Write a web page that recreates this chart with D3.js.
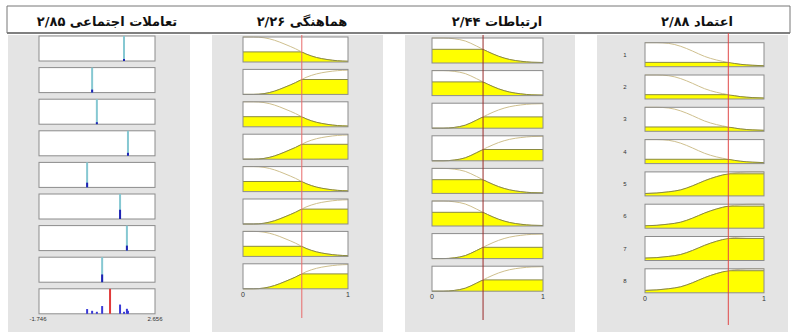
<!DOCTYPE html>
<html><head><meta charset="utf-8">
<script src="https://cdn.jsdelivr.net/npm/d3@7"></script>
<style>body{margin:0;background:#fff} svg{display:block}</style>
</head><body>
<script>
// ---------------- DATA ----------------
const headers = ["تعاملات اجتماعی ۲/۸۵", "هماهنگی ۲/۲۶", "ارتباطات ۲/۴۴", "اعتماد ۲/۸۸"];
const ruleNumbers = ["1","2","3","4","5","6","7","8"];
const mfX = [0,0.1,0.2,0.3,0.4,0.5,0.6,0.7,0.8,0.9,1];
// membership curves (value at mfX)
const hamahangiDec = [1.0,1.0,0.97,0.87,0.71,0.53,0.32,0.18,0.10,0.05,0.03];
const hamahangiInc = [0.0,0.0,0.03,0.13,0.29,0.47,0.68,0.82,0.90,0.95,0.97];
const ertebatatDec = [1.0,1.0,0.97,0.88,0.68,0.46,0.27,0.14,0.07,0.03,0.02];
const ertebatatInc = [0.0,0.0,0.03,0.12,0.32,0.54,0.73,0.86,0.93,0.97,0.98];
const etemadDec    = [1.0,1.0,0.97,0.85,0.65,0.43,0.28,0.18,0.10,0.06,0.04];
const etemadInc    = [0.10,0.12,0.17,0.25,0.42,0.63,0.80,0.92,0.98,1.0,1.0];
// which curve each rule uses
const hamahangiRules = ["dec","inc","dec","inc","dec","inc","dec","inc"];
const ertebatatRules = ["dec","dec","inc","inc","dec","dec","inc","inc"];
const etemadRules    = ["dec","dec","dec","dec","inc","inc","inc","inc"];
// input values (red lines)
const hamahangiInput = 0.56;
const ertebatatInput = 0.46;
const etemadInput = 0.70;
const inputTickLabels = ["0","1"];
// output (Sugeno singletons)
const outDomain = [-1.746, 2.656];
const outTickLabels = ["-1.746","2.656"];
const outSingletons = [1.48,0.27,0.45,1.63,0.08,1.33,1.59,0.65];
const outStrengths  = [0.08,0.12,0.08,0.12,0.19,0.37,0.20,0.31];
const outValue = 0.95;

// ---------------- LAYOUT ----------------
const W = 795, H = 336;
const svg = d3.select("body").append("svg").attr("width", W).attr("height", H);
const defs = svg.append("defs");

// column panels
const panels = [
  {x0: 8, x1: 190}, {x0: 212, x1: 383}, {x0: 405, x1: 575}, {x0: 597, x1: 788}
];
panels.forEach(p => svg.append("rect").attr("x", p.x0).attr("y", 35)
  .attr("width", p.x1 - p.x0).attr("height", 297).attr("fill", "#e4e4e4"));

// header
svg.append("line").attr("x1", 7).attr("x2", 790).attr("y1", 6).attr("y2", 6).attr("stroke", "#777").attr("stroke-width", 1);
svg.append("line").attr("x1", 7).attr("x2", 790).attr("y1", 33).attr("y2", 33).attr("stroke", "#808080").attr("stroke-width", 2);
svg.append("line").attr("x1", 7).attr("x2", 7).attr("y1", 6).attr("y2", 33).attr("stroke", "#777");
svg.append("line").attr("x1", 790).attr("x2", 790).attr("y1", 6).attr("y2", 33).attr("stroke", "#777");
const headerX = [107, 302, 497, 697];
headers.forEach((t, i) => svg.append("text").attr("x", headerX[i]).attr("y", 26)
  .attr("direction", "rtl").attr("text-anchor", "middle")
  .attr("font-family", "DejaVu Sans").attr("font-weight", "bold").attr("font-size", 13)
  .attr("fill", "#111").text(t));

const inputCols = [
  {dec: hamahangiDec, inc: hamahangiInc, rules: hamahangiRules, input: hamahangiInput,
   left: 243, right: 348, top: 37, pitch: 32.4, h: 25, redTop: 35, redBottom: 318, red: "#e86a6a"},
  {dec: ertebatatDec, inc: ertebatatInc, rules: ertebatatRules, input: ertebatatInput,
   left: 432, right: 543, top: 38, pitch: 32.6, h: 25, redTop: 35, redBottom: 320, red: "#9a2a2a"},
  {dec: etemadDec, inc: etemadInc, rules: etemadRules, input: etemadInput,
   left: 645, right: 764, top: 42.7, pitch: 32.3, h: 24, redTop: 33, redBottom: 325, red: "#e04848", numbers: true}
];

function interp(vals, x) {
  const k = Math.min(mfX.length - 2, Math.floor(x * 10));
  const t = (x - mfX[k]) / (mfX[k + 1] - mfX[k]);
  return vals[k] + t * (vals[k + 1] - vals[k]);
}

let clipId = 0;
inputCols.forEach((c, ci) => {
  const x = d3.scaleLinear().domain([0, 1]).range([c.left, c.right]);
  const g = svg.append("g");
  c.rules.forEach((rk, r) => {
    const vals = rk === "dec" ? c.dec : c.inc;
    const yTop = c.top + r * c.pitch;
    const y = d3.scaleLinear().domain([0, 1]).range([yTop + c.h, yTop]);
    const pts = mfX.map((xv, k) => [xv, vals[k]]);
    const level = interp(vals, c.input);
    const line = d3.line().x(d => x(d[0])).y(d => y(d[1])).curve(d3.curveMonotoneX);
    const area = d3.area().x(d => x(d[0])).y0(y(0)).y1(d => y(d[1])).curve(d3.curveMonotoneX);
    g.append("rect").attr("x", c.left).attr("y", yTop).attr("width", c.right - c.left)
      .attr("height", c.h).attr("fill", "#fff");
    // clips
    const rid = "cr" + (clipId++), aid = "ca" + (clipId++);
    defs.append("clipPath").attr("id", rid).append("rect")
      .attr("x", c.left - 1).attr("y", y(level)).attr("width", c.right - c.left + 2).attr("height", y(0) - y(level) + 1);
    defs.append("clipPath").attr("id", aid).append("path").attr("d", area(pts));
    // thin membership curve
    g.append("path").attr("d", line(pts)).attr("fill", "none").attr("stroke", "#cfc08e").attr("stroke-width", 1);
    // yellow fired region
    g.append("path").attr("d", area(pts)).attr("fill", "#ffff00").attr("clip-path", `url(#${rid})`);
    g.append("path").attr("d", line(pts)).attr("fill", "none").attr("stroke", "#8a8a40")
      .attr("stroke-width", 1).attr("clip-path", `url(#${rid})`);
    g.append("line").attr("x1", c.left).attr("x2", c.right).attr("y1", y(level)).attr("y2", y(level))
      .attr("stroke", "#8a8a40").attr("stroke-width", 1).attr("clip-path", `url(#${aid})`);
    g.append("rect").attr("x", c.left).attr("y", yTop).attr("width", c.right - c.left)
      .attr("height", c.h).attr("fill", "none").attr("stroke", "#8c8c8c").attr("stroke-width", 1);
    if (c.numbers) {
      g.append("text").attr("x", 625).attr("y", yTop + c.h / 2 + 2).attr("text-anchor", "middle")
        .attr("font-family", "Liberation Sans").attr("font-size", 6).attr("fill", "#333").text(ruleNumbers[r]);
    }
  });
  const lastBottom = c.top + (c.rules.length - 1) * c.pitch + c.h;
  g.append("text").attr("x", x(0)).attr("y", lastBottom + 8).attr("text-anchor", "middle")
    .attr("font-family", "Liberation Sans").attr("font-size", 7).attr("fill", "#333").text(inputTickLabels[0]);
  g.append("text").attr("x", x(1)).attr("y", lastBottom + 8).attr("text-anchor", "middle")
    .attr("font-family", "Liberation Sans").attr("font-size", 7).attr("fill", "#333").text(inputTickLabels[1]);
  g.append("line").attr("x1", x(c.input)).attr("x2", x(c.input)).attr("y1", c.redTop).attr("y2", c.redBottom)
    .attr("stroke", c.red).attr("stroke-width", 1);
});

// output column
const oc = {left: 39, right: 155, top: 36, pitch: 31.6, h: 25};
const ox = d3.scaleLinear().domain(outDomain).range([oc.left, oc.right]);
const og = svg.append("g");
outSingletons.forEach((s, r) => {
  const yTop = oc.top + r * oc.pitch;
  const y = d3.scaleLinear().domain([0, 1]).range([yTop + oc.h, yTop]);
  og.append("rect").attr("x", oc.left).attr("y", yTop).attr("width", oc.right - oc.left)
    .attr("height", oc.h).attr("fill", "#fff").attr("stroke", "#8c8c8c");
  og.append("line").attr("x1", ox(s)).attr("x2", ox(s)).attr("y1", y(1)).attr("y2", y(0))
    .attr("stroke", "#86c8d2").attr("stroke-width", 2);
  og.append("line").attr("x1", ox(s)).attr("x2", ox(s)).attr("y1", y(outStrengths[r])).attr("y2", y(0))
    .attr("stroke", "#1e22b4").attr("stroke-width", 2);
});
{
  const r = outSingletons.length;
  const yTop = oc.top + r * oc.pitch;
  const y = d3.scaleLinear().domain([0, 1]).range([yTop + oc.h, yTop]);
  og.append("rect").attr("x", oc.left).attr("y", yTop).attr("width", oc.right - oc.left)
    .attr("height", oc.h).attr("fill", "#fff").attr("stroke", "#8c8c8c");
  outSingletons.forEach((s, i) => og.append("line").attr("x1", ox(s)).attr("x2", ox(s))
    .attr("y1", y(outStrengths[i])).attr("y2", y(0)).attr("stroke", "#3a3ad6").attr("stroke-width", 2));
  og.append("line").attr("x1", ox(outValue)).attr("x2", ox(outValue)).attr("y1", y(1)).attr("y2", y(0))
    .attr("stroke", "#e03a3a").attr("stroke-width", 2);
  og.append("text").attr("x", ox(outDomain[0]) - 1).attr("y", yTop + oc.h + 7).attr("text-anchor", "middle")
    .attr("font-family", "Liberation Sans").attr("font-size", 6).attr("fill", "#333").text(outTickLabels[0]);
  og.append("text").attr("x", ox(outDomain[1])).attr("y", yTop + oc.h + 7).attr("text-anchor", "middle")
    .attr("font-family", "Liberation Sans").attr("font-size", 6).attr("fill", "#333").text(outTickLabels[1]);
}
</script>
</body></html>
